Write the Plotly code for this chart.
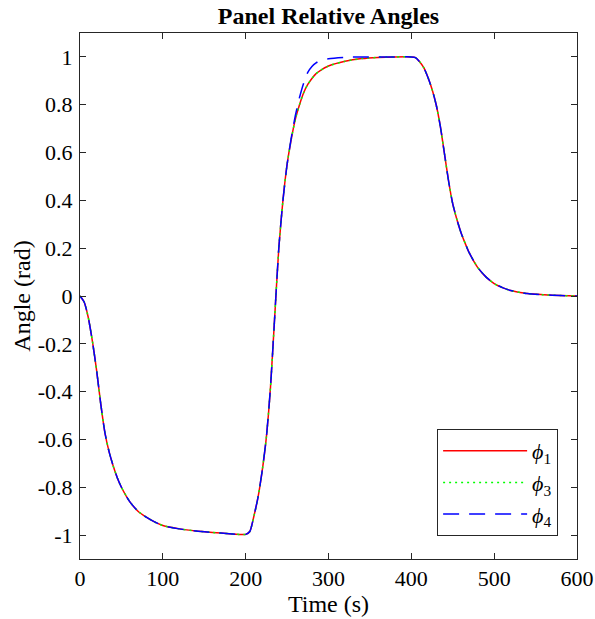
import plotly.graph_objects as go

# ---- data ----
time_s = [0, 5, 10, 15, 20, 25, 30, 35, 40, 45, 50, 60, 70, 80, 90, 100, 120, 140, 160, 180,
          200, 205, 210, 215, 220, 225, 230, 235, 240, 245, 250, 255, 260, 265, 270, 275, 280,
          285, 290, 300, 320, 340, 360, 380, 400, 405, 410, 415, 420, 425, 430, 435, 440, 445,
          450, 455, 460, 465, 470, 480, 490, 500, 510, 520, 540, 560, 580, 600]

phi1 = [0, -0.025, -0.09, -0.19, -0.31, -0.45, -0.57, -0.65, -0.71, -0.76, -0.80, -0.86, -0.90,
        -0.925, -0.945, -0.96, -0.974, -0.983, -0.989, -0.994,
        -0.997, -0.985, -0.92, -0.84, -0.73, -0.59, -0.38, -0.09, 0.20, 0.40, 0.55, 0.655, 0.74,
        0.80, 0.85, 0.885, 0.91, 0.93, 0.943, 0.962, 0.982, 0.993, 0.998, 1.0, 1.0, 0.997,
        0.98, 0.955, 0.915, 0.865, 0.80, 0.71, 0.595, 0.48,
        0.385, 0.32, 0.265, 0.22, 0.18, 0.12, 0.08, 0.052, 0.035, 0.023, 0.01, 0.005, 0.002, 0.0]

phi3 = list(phi1)

phi4 = [0, -0.025, -0.09, -0.19, -0.31, -0.45, -0.57, -0.65, -0.71, -0.76, -0.80, -0.86, -0.90,
        -0.925, -0.945, -0.96, -0.974, -0.983, -0.989, -0.994,
        -0.997, -0.985, -0.92, -0.84, -0.73, -0.59, -0.38, -0.09, 0.20, 0.40, 0.55, 0.66, 0.755,
        0.83, 0.89, 0.935, 0.96, 0.975, 0.985, 0.992, 0.998, 1.0, 1.0, 1.0, 1.0, 0.997,
        0.98, 0.955, 0.915, 0.865, 0.80, 0.71, 0.595, 0.48,
        0.385, 0.32, 0.265, 0.22, 0.18, 0.12, 0.08, 0.052, 0.035, 0.023, 0.01, 0.005, 0.002, 0.0]

series_names = ["<i>ϕ</i><sub>1</sub>", "<i>ϕ</i><sub>3</sub>", "<i>ϕ</i><sub>4</sub>"]
x_ticks = [0, 100, 200, 300, 400, 500, 600]
y_ticks = [-1, -0.8, -0.6, -0.4, -0.2, 0, 0.2, 0.4, 0.6, 0.8, 1]
y_tick_labels = ["-1", "-0.8", "-0.6", "-0.4", "-0.2", "0", "0.2", "0.4", "0.6", "0.8", "1"]

FONT = "Liberation Serif"
AX = "#262626"

fig = go.Figure()
fig.add_trace(go.Scatter(x=time_s, y=phi1, mode="lines", name=series_names[0],
                         line=dict(color="#ff0000", width=1.5, shape="spline", smoothing=0.6)))
fig.add_trace(go.Scatter(x=time_s, y=phi3, mode="lines", name=series_names[1],
                         line=dict(color="#00ff00", width=1.5, dash="2px,4px", shape="spline", smoothing=0.6)))
fig.add_trace(go.Scatter(x=time_s, y=phi4, mode="lines", name=series_names[2],
                         line=dict(color="#0000ff", width=1.5, dash="16px,10px", shape="spline", smoothing=0.6)))

axis_common = dict(showgrid=False, zeroline=False, showline=True, linecolor=AX, linewidth=1,
                   mirror="ticks", ticks="inside", ticklen=6, tickcolor=AX, tickwidth=1,
                   automargin=False,
                   tickfont=dict(family=FONT, size=22, color="#000000"))

fig.update_xaxes(range=[0, 600], tickvals=x_ticks, ticktext=[str(v) for v in x_ticks],
                 title=dict(text="Time (s)", font=dict(family=FONT, size=24, color="#000000"), standoff=2),
                 **axis_common)
fig.update_yaxes(range=[-1.1, 1.1], tickvals=y_ticks, ticktext=y_tick_labels, ticklabelstandoff=2,
                 title=dict(text="Angle (rad)", font=dict(family=FONT, size=24, color="#000000"), standoff=0),
                 **axis_common)

fig.update_layout(
    width=595, height=619,
    margin=dict(l=80, r=18, t=33, b=60),
    paper_bgcolor="white", plot_bgcolor="white",
    title=dict(text="<b>Panel Relative Angles</b>", x=0.5521, xanchor="center", y=0.974, yanchor="middle",
               font=dict(family=FONT, size=24, color="#000000")),
    legend=dict(x=0.962, xanchor="right", y=0.0437, yanchor="bottom",
                bgcolor="white", bordercolor=AX, borderwidth=1,
                font=dict(family=FONT, size=22, color="#000000"),
                itemwidth=84, tracegroupgap=0),
    showlegend=True,
)

fig.write_html("out.html")
